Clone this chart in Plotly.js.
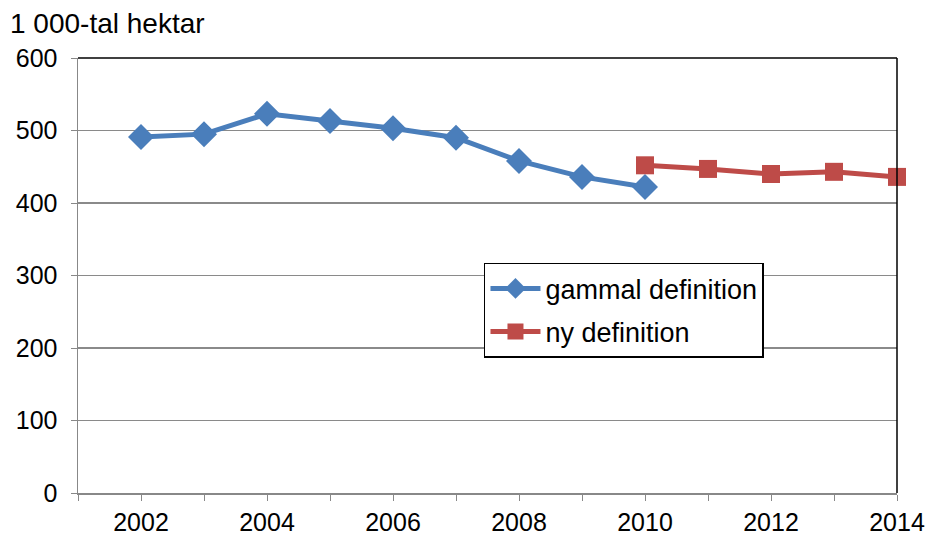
<!DOCTYPE html>
<html><head><meta charset="utf-8">
<script src="https://cdn.plot.ly/plotly-3.0.1.min.js"></script>
<style>html,body{margin:0;padding:0;background:#fff}#c{width:929px;height:535px}</style>
</head><body><div id="c"></div>
<script>
var yearsOld = [2002, 2003, 2004, 2005, 2006, 2007, 2008, 2009, 2010];
var gammal = [491, 495, 523, 513, 503, 490, 458, 436, 422];
var yearsNew = [2010, 2011, 2012, 2013, 2014];
var ny = [452, 447, 440, 443, 436];
var xTickVals = [2002, 2004, 2006, 2008, 2010, 2012, 2014];

var traces = [
  {x: yearsOld, y: gammal, name: 'gammal definition', legendgroup: 'a', type: 'scatter', mode: 'lines+markers',
   line: {color: '#4A7EBB', width: 5}, marker: {symbol: 'diamond', size: 20, color: '#4A7EBB'}, cliponaxis: false},
  {x: yearsNew, y: ny, name: 'ny definition', legendgroup: 'b', type: 'scatter', mode: 'lines+markers',
   line: {color: '#BE4B48', width: 5}, marker: {symbol: 'square', size: 18, color: '#BE4B48'}, cliponaxis: false}
];
var layout = {
  width: 929, height: 535,
  margin: {l: 78, r: 32, t: 58, b: 42},
  paper_bgcolor: '#fff', plot_bgcolor: '#fff',
  font: {family: 'Liberation Sans, Arial, sans-serif', size: 25, color: '#000'},
  showlegend: true,
  legend: {x: 0.4957, y: 0.529, xanchor: 'left', yanchor: 'top', bgcolor: '#fff',
    bordercolor: '#000', borderwidth: 1.5, font: {size: 27}, traceorder: 'grouped', tracegroupgap: 5,
    itemwidth: 50},
  xaxis: {range: [2001, 2014], tickvals: xTickVals, ticktext: xTickVals.map(String),
    ticks: 'outside', ticklen: 6, tickcolor: '#888', showgrid: false, zeroline: false,
    showline: true, linecolor: '#888', linewidth: 1.5, ticklabelstandoff: 0,
    minor: {dtick: 1, tick0: 2001, ticks: 'outside', ticklen: 6, tickcolor: '#888', showgrid: false},
    tickfont: {size: 25}, fixedrange: true},
  yaxis: {range: [0, 600], dtick: 100, ticks: 'outside', ticklen: 6, tickcolor: '#888',
    showgrid: true, gridcolor: '#8a8a8a', gridwidth: 1.5, zeroline: false, ticklabelstandoff: 8,
    showline: true, linecolor: '#888', linewidth: 1.5, tickfont: {size: 25}, fixedrange: true},
  shapes: [
    {type: 'line', xref: 'paper', yref: 'paper', x0: 0, x1: 1, y0: 1, y1: 1, line: {color: '#000', width: 1.5}},
    {type: 'line', xref: 'paper', yref: 'paper', x0: 1, x1: 1, y0: 0, y1: 1, line: {color: '#000', width: 1.5}}
  ],
  annotations: [
    {text: '1 000-tal hektar', xref: 'paper', yref: 'paper', x: -0.085, y: 1.04, xanchor: 'left', yanchor: 'bottom',
     showarrow: false, font: {size: 28}}
  ]
};
Plotly.newPlot('c', traces, layout, {displayModeBar: false, staticPlot: true});
</script></body></html>
